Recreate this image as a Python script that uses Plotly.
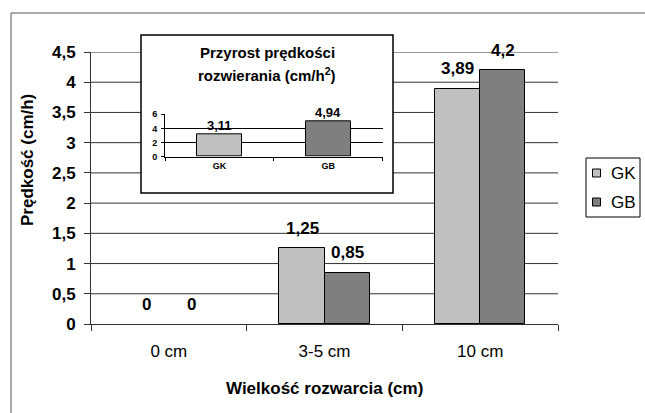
import plotly.graph_objects as go

# ---- data ----
categories = ["0 cm", "3-5 cm", "10 cm"]
series_names = ["GK", "GB"]
gk_values = [0, 1.25, 3.89]
gb_values = [0, 0.85, 4.2]
y_ticks = [0, 0.5, 1, 1.5, 2, 2.5, 3, 3.5, 4, 4.5]

inset_categories = ["GK", "GB"]
inset_values = [3.11, 4.94]
inset_ticks = [0, 2, 4, 6]

x_title = "Wielkość rozwarcia (cm)"
y_title = "Prędkość (cm/h)"
inset_title_lines = ["Przyrost prędkości", "rozwierania (cm/h<sup>2</sup>)"]

# ---- style ----
W, H = 645, 413
L, R, T, B = 91, 87, 52, 89
PW, PH = W - L - R, H - T - B
FONT = "Arial, Liberation Sans, sans-serif"
COLORS = {"GK": "#c0c0c0", "GB": "#7f7f7f"}
GRID = "#333333"


def px2x(px):
    return (px - L) / PW


def py2y(py):
    return (H - B - py) / PH


def fmt(v):
    return f"{v:g}".replace(".", ",")


fig = go.Figure()

bw = 0.29
for name, vals, off in [("GK", gk_values, -bw), ("GB", gb_values, 0.0)]:
    fig.add_trace(go.Bar(
        x=categories, y=vals, name=name, width=bw, offset=off,
        marker=dict(color=COLORS[name],
                    line=dict(color="black", width=[0 if v == 0 else 1 for v in vals])),
        xaxis="x", yaxis="y", showlegend=False,
    ))

iw = 0.41
fig.add_trace(go.Bar(
    x=inset_categories, y=inset_values, width=iw, offset=-iw / 2,
    marker=dict(color=[COLORS[c] for c in inset_categories], line=dict(color="black", width=1)),
    xaxis="x2", yaxis="y2", showlegend=False,
))

shapes = []
# main gridlines (drawn as shapes so the inset box can cover them)
for t in y_ticks[1:]:
    shapes.append(dict(type="line", xref="paper", yref="y", x0=0, x1=1, y0=t, y1=t,
                       line=dict(color=GRID, width=1), layer="below"))
# inset box
shapes.append(dict(type="rect", xref="paper", yref="paper",
                   x0=px2x(141), x1=px2x(393), y0=py2y(193), y1=py2y(35),
                   fillcolor="white", line=dict(color="black", width=1.5), layer="below"))
# outer frame (left & top)
shapes.append(dict(type="line", xref="paper", yref="paper",
                   x0=px2x(11), x1=px2x(11), y0=py2y(13), y1=py2y(430),
                   line=dict(color="#555555", width=1)))
shapes.append(dict(type="line", xref="paper", yref="paper",
                   x0=px2x(11), x1=px2x(660), y0=py2y(13), y1=py2y(13),
                   line=dict(color="#555555", width=1)))

ann = []
# manual legend
shapes.append(dict(type="rect", xref="paper", yref="paper",
                   x0=px2x(586), x1=px2x(640), y0=py2y(217), y1=py2y(158),
                   fillcolor="white", line=dict(color="black", width=1)))
for i, name in enumerate(series_names):
    cy = 173 + 29 * i
    shapes.append(dict(type="rect", xref="paper", yref="paper",
                       x0=px2x(592.5), x1=px2x(600.5), y0=py2y(cy + 4), y1=py2y(cy - 4),
                       fillcolor=COLORS[name], line=dict(color="black", width=1)))
    ann.append(dict(x=px2x(609), y=py2y(cy), xref="paper", yref="paper", text=name,
                    showarrow=False, xanchor="left", yanchor="middle",
                    font=dict(family=FONT, size=17, color="black")))

for vals, xs in [(gk_values, -22.5), (gb_values, 22.5)]:
    for c, v in zip(categories, vals):
        ann.append(dict(x=c, y=v, xref="x", yref="y", text=fmt(v), showarrow=False,
                        xshift=xs, yshift=20, yanchor="middle",
                        font=dict(family=FONT, size=17, color="black", weight="bold")))
for c, v in zip(inset_categories, inset_values):
    ann.append(dict(x=c, y=v, xref="x2", yref="y2", text=fmt(v), showarrow=False,
                    yshift=9, yanchor="middle",
                    font=dict(family=FONT, size=13, color="black", weight="bold")))
for i, line in enumerate(inset_title_lines):
    ann.append(dict(x=px2x(267), y=py2y(52 + 22 * i), xref="paper", yref="paper",
                    text=line, showarrow=False, xanchor="center", yanchor="middle",
                    font=dict(family=FONT, size=15, color="black", weight="bold")))
ann.append(dict(x=0.5, y=py2y(388), xref="paper", yref="paper", text=x_title,
                showarrow=False, xanchor="center", yanchor="middle",
                font=dict(family=FONT, size=17, color="black", weight="bold")))
ann.append(dict(x=px2x(27), y=py2y(160), xref="paper", yref="paper", text=y_title,
                showarrow=False, textangle=-90, xanchor="center", yanchor="middle",
                font=dict(family=FONT, size=17, color="black", weight="bold")))

fig.update_layout(
    width=W, height=H,
    margin=dict(l=L, r=R, t=T, b=B, autoexpand=False),
    paper_bgcolor="white", plot_bgcolor="white",
    font=dict(family=FONT, color="black"),
    separators=", ",
    bargap=0,
    showlegend=False,
    shapes=shapes,
    annotations=ann,
    xaxis=dict(domain=[0, 1], type="category", categoryorder="array", categoryarray=categories,
               range=[-0.5, 2.5], showgrid=False, showline=True, linecolor=GRID, linewidth=1,
               ticks="outside", tickson="boundaries", ticklen=6, tickcolor=GRID, automargin=False,
               tickfont=dict(family=FONT, size=17, color="black"), ticklabelstandoff=12),
    yaxis=dict(domain=[0, 1], range=[0, 4.5], tickvals=y_ticks, ticktext=[fmt(t) for t in y_ticks],
               showgrid=False, zeroline=False, showline=True, linecolor=GRID, linewidth=1,
               ticks="outside", ticklen=6, tickcolor=GRID, ticklabelstandoff=5, automargin=False,
               tickfont=dict(family=FONT, size=17, color="black", weight="bold")),
    xaxis2=dict(domain=[px2x(165), px2x(382.7)], anchor="y2", type="category",
                categoryorder="array", categoryarray=inset_categories, range=[-0.5, 1.5],
                showgrid=False, showline=True, linecolor="black", linewidth=1, automargin=False,
                ticks="outside", tickson="boundaries", ticklen=3, tickcolor="black",
                tickfont=dict(family=FONT, size=9, color="black", weight="bold")),
    yaxis2=dict(domain=[py2y(156.7), py2y(114.3)], anchor="x2", range=[0, 6], tickvals=inset_ticks,
                showgrid=True, gridcolor="black", gridwidth=1, zeroline=False, automargin=False,
                showline=True, linecolor="black", linewidth=1,
                ticks="outside", ticklen=3, tickcolor="black", ticklabelstandoff=2,
                tickfont=dict(family=FONT, size=9, color="black", weight="bold")),
)

fig.write_html(
    "out.html",
    config={"displayModeBar": False},
    post_script="document.body.style.margin='0';document.body.style.padding='0';",
)
